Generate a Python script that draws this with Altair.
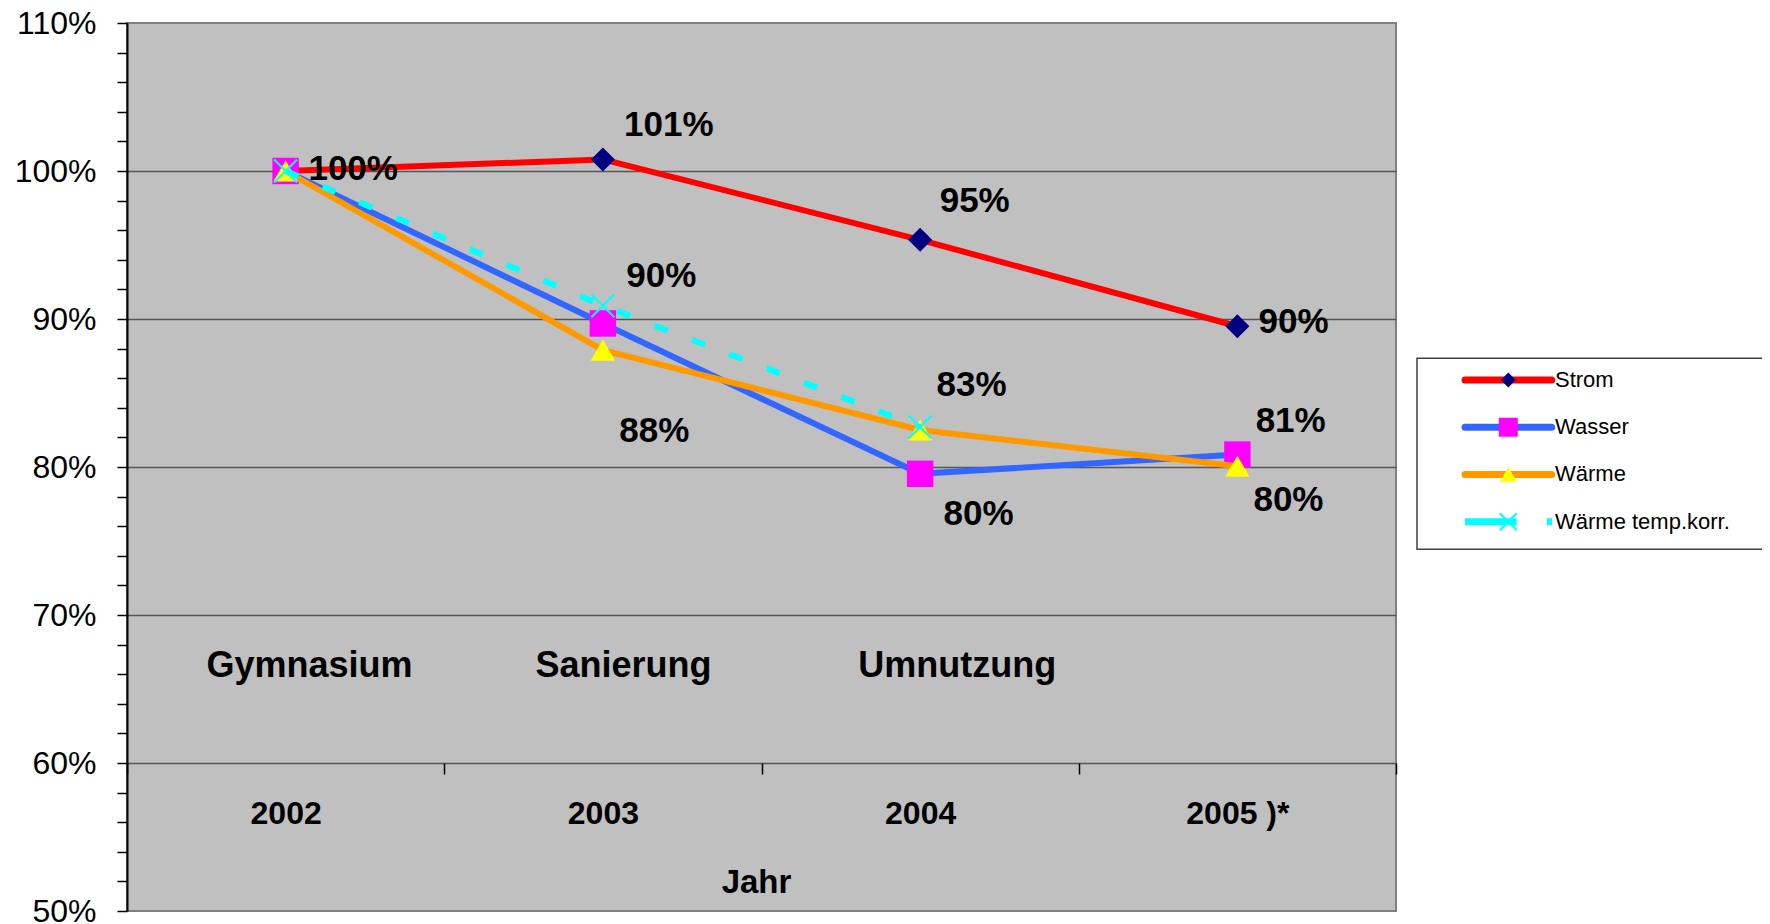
import altair as alt
import pandas as pd

# ---------------- data ----------------
years = [2002, 2003, 2004, 2005]
year_labels = ["2002", "2003", "2004", "2005 )*"]
series = ["Strom", "Wasser", "Wärme", "Wärme temp.korr."]
strom = [100.0, 100.78, 95.35, 89.51]
wasser = [100.0, 89.7, 79.54, 80.84]
waerme = [100.0, 87.9, 82.5, 80.05]
waerme_korr = [100.0, 90.9, 82.7, None]

# data labels (text and anchor in data units)
label_text = ["100%", "101%", "95%", "90%", "90%", "88%", "83%", "80%", "81%", "80%"]
label_year = [2002.213, 2003.208, 2004.172, 2005.177, 2003.184, 2003.162,
              2004.162, 2004.184, 2005.168, 2005.161]
label_value = [100.15, 103.09, 97.95, 89.78, 92.89, 82.43, 85.51, 76.84, 83.09, 77.79]

# phase annotations
phase_text = ["Gymnasium", "Sanierung", "Umnutzung"]
phase_year = [2002.075, 2003.065, 2004.117]
phase_value = [66.55, 66.55, 66.55]

y_ticks = list(range(50, 111, 2))
x_bounds = [y - 0.5 for y in years] + [years[-1] + 0.5]

# ---------------- styles ----------------
FONT = "Liberation Sans"
line_colors = ["#FF0000", "#3366FF", "#FF9900", "#00FFFF"]
marker_shapes = ["diamond", "square", "triangle-up", "M-1,-1L1,1M-1,1L1,-1"]
marker_fills = ["#000080", "#FF00FF", "#FFFF00", None]
marker_sizes = [576, 700, 600, 529]
legend_marker_sizes = [225, 361, 289, 289]

rows = []
for s, vals in zip(series, [strom, wasser, waerme, waerme_korr]):
    for yr, v in zip(years, vals):
        if v is not None:
            rows.append({"series": s, "year": yr, "value": v})
df = pd.DataFrame(rows)

labels_df = pd.DataFrame({"text": label_text, "year": label_year, "value": label_value})
phase_df = pd.DataFrame({"text": phase_text, "year": phase_year, "value": phase_value})
legend_df = pd.DataFrame({"series": series})

xscale = alt.Scale(domain=[x_bounds[0], x_bounds[-1]], nice=False, zero=False)
yscale = alt.Scale(domain=[50, 110], nice=False, zero=False)

Xn = alt.X("year:Q", scale=xscale, axis=None)
Yn = alt.Y("value:Q", scale=yscale, axis=None)

label_expr = " : ".join(
    f"datum.value === {y} ? '{t}'" for y, t in zip(years, year_labels)
) + " : ''"

y_axis = alt.Axis(
    orient="left",
    values=y_ticks,
    labelExpr="datum.value % 10 === 0 ? datum.value + '%' : ''",
    labelFont=FONT, labelFontSize=32, labelColor="black", labelPadding=21,
    labelOverlap=False, labelFlush=False,
    tickSize=10, tickColor="black", tickWidth=1.5,
    domainColor="black", domainWidth=2,
    grid=True, gridColor="#555555", gridWidth=1.5,
    gridOpacity={"condition": {"test": "datum.value % 10 === 0 && datum.value > 50 && datum.value < 110",
                               "value": 1}, "value": 0},
    title=None,
)

x_tick_axis = alt.Axis(
    orient="bottom",
    values=x_bounds, labels=False, domain=False, grid=False,
    tickSize=11, tickColor="black", tickWidth=1.5, offset=-148, title=None,
)

x_label_axis = alt.Axis(
    orient="bottom",
    values=years, labelExpr=label_expr, ticks=False, domain=False, grid=False,
    labelFont=FONT, labelFontSize=32, labelFontWeight="bold", labelColor="black",
    labelPadding=50, labelBaseline="middle", labelFlush=False, labelOverlap=False,
    offset=-148,
    title="Jahr", titleFont=FONT, titleFontSize=33, titleFontWeight="bold",
    titleColor="black", titleX=629, titleY=119, titleBaseline="middle", titleAlign="center",
)

axis_layer1 = alt.Chart(df).mark_point(opacity=0).encode(
    x=alt.X("year:Q", scale=xscale, axis=x_tick_axis),
    y=alt.Y("value:Q", scale=yscale, axis=y_axis),
)
axis_layer2 = alt.Chart(df).mark_point(opacity=0).encode(
    x=alt.X("year:Q", scale=xscale, axis=x_label_axis),
    y=Yn,
)

layers = [axis_layer1, axis_layer2]

for i, s in enumerate(series):
    sdf = df[df["series"] == s]
    line_kwargs = dict(color=line_colors[i], strokeWidth=6, strokeJoin="round")
    if i == 3:
        line_kwargs["strokeDash"] = [14, 26]
    layers.append(alt.Chart(sdf).mark_line(**line_kwargs).encode(x=Xn, y=Yn))
    if marker_fills[i] is None:
        pt = alt.Chart(sdf).mark_point(shape=marker_shapes[i], filled=False,
                                       stroke=line_colors[i], strokeWidth=2,
                                       size=marker_sizes[i], opacity=1)
    else:
        pt = alt.Chart(sdf).mark_point(shape=marker_shapes[i], filled=True,
                                       fill=marker_fills[i], strokeWidth=0,
                                       size=marker_sizes[i], opacity=1)
    layers.append(pt.encode(x=Xn, y=Yn))

layers.append(
    alt.Chart(labels_df).mark_text(font=FONT, fontSize=35, fontWeight="bold", color="black",
                                   align="center", baseline="middle")
    .encode(x=Xn, y=Yn, text="text:N")
)
layers.append(
    alt.Chart(phase_df).mark_text(font=FONT, fontSize=36, fontWeight="bold", color="black",
                                  align="center", baseline="middle")
    .encode(x=Xn, y=Yn, text="text:N")
)

# ---------------- legend (drawn manually) ----------------
LY = alt.Y("series:N", scale=alt.Scale(type="point", domain=series, range=[357, 498.7], padding=0),
           axis=None)

box = alt.Chart(pd.DataFrame({"series": [series[0]]})).mark_rect(
    fill="white", stroke="#404040", strokeWidth=1.5
).encode(x=alt.value(1290), x2=alt.value(1700), y=alt.value(335.3), y2=alt.value(526.3))
layers.append(box)

for i, s in enumerate(series):
    ldf = legend_df[legend_df["series"] == s]
    if i < 3:
        layers.append(alt.Chart(ldf).mark_rule(color=line_colors[i], strokeWidth=7, strokeCap="round")
                      .encode(x=alt.value(1338), x2=alt.value(1424.7), y=LY))
    else:
        layers.append(alt.Chart(ldf).mark_rule(color=line_colors[i], strokeWidth=7, strokeCap="butt")
                      .encode(x=alt.value(1338), x2=alt.value(1389.7), y=LY))
        layers.append(alt.Chart(ldf).mark_rule(color=line_colors[i], strokeWidth=7, strokeCap="butt")
                      .encode(x=alt.value(1420), x2=alt.value(1425), y=LY))
    if marker_fills[i] is None:
        lp = alt.Chart(ldf).mark_point(shape=marker_shapes[i], filled=False, stroke=line_colors[i],
                                       strokeWidth=2, size=legend_marker_sizes[i], opacity=1)
    else:
        lp = alt.Chart(ldf).mark_point(shape=marker_shapes[i], filled=True, fill=marker_fills[i],
                                       strokeWidth=0, size=legend_marker_sizes[i], opacity=1)
    layers.append(lp.encode(x=alt.value(1381.3), y=LY))

layers.append(
    alt.Chart(legend_df).mark_text(font=FONT, fontSize=22, color="black", align="left",
                                   baseline="middle")
    .encode(x=alt.value(1428), y=LY, text="series:N")
)

chart = (
    alt.layer(*layers)
    .resolve_scale(y="independent")
    .resolve_axis(x="independent", y="independent")
    .properties(
        width=1269, height=888,
        autosize=alt.AutoSizeParams(type="none"),
        padding={"left": 119, "top": 15, "right": 366, "bottom": 13},
    )
    .configure(font=FONT)
    .configure_view(fill="#C0C0C0", stroke="#808080", strokeWidth=2)
)

chart.save("out.html", embed_options={"renderer": "svg", "actions": False})
